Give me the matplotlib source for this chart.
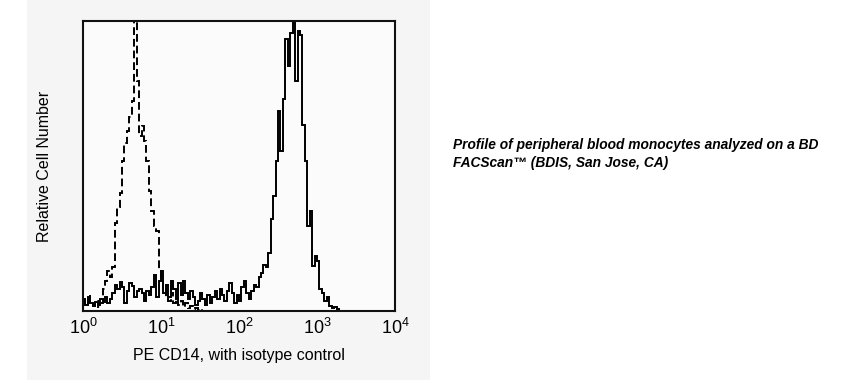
import matplotlib
matplotlib.use('Agg')
import matplotlib.pyplot as plt
from matplotlib.patches import Rectangle
import numpy as np

plt.rcParams['font.family'] = ['Liberation Sans', 'DejaVu Sans']
plt.rcParams['mathtext.fontset'] = 'custom'
plt.rcParams['mathtext.rm'] = 'Liberation Sans'

# 128 log-spaced channels over 4 decades (instrument channel grid)
channel_edges = np.logspace(0, 4, 129)

# relative cell counts per channel (pixels above axis)
isotype_counts = [
    12, 6, 16, 8, 5, 10, 4, 8, 22, 30,
    40, 34, 44, 88, 104, 118, 150, 168, 180, 194,
    210, 330, 230, 175, 185, 170, 150, 120, 100, 85,
    80, 40, 30, 22, 14, 10, 18, 8, 12, 6,
    10, 4, 8, 3, 5, 2, 3, 1, 2,
] + [0] * 79

cd14_counts = [
    10, 6, 14, 8, 5, 9, 6, 12, 9, 14,
    8, 12, 18, 26, 22, 29, 24, 8, 20, 28,
    25, 14, 20, 22, 18, 10, 20, 16, 24, 36,
    14, 30, 40, 18, 26, 14, 30, 22, 12, 28,
    16, 30, 18, 12, 20, 14, 6, 10, 18, 12,
    6, 16, 8, 14, 20, 12, 22, 16, 10, 20,
    28, 18, 8, 16, 10, 24, 30, 18, 12, 20,
    26, 24, 34, 38, 46, 44, 58, 92, 115, 150,
    200, 160, 212, 272, 245, 278, 330, 230, 280, 276,
    186, 150, 85, 100, 45, 55, 50, 22, 18, 10,
    14, 5, 3, 4, 2,
] + [0] * 23

tick_values = [1, 10, 100, 1000, 10000]
tick_labels = [r'$\mathregular{10^{%d}}$' % i for i in range(5)]

fig = plt.figure(figsize=(8.59, 3.8), dpi=100)
fig.patches.append(Rectangle((27 / 859, 0), 403 / 859, 1, transform=fig.transFigure,
                             facecolor='#f5f5f5', edgecolor='none', zorder=-10))

ax = fig.add_axes([83 / 859, 69 / 380, 312 / 859, 290 / 380])
ax.set_facecolor('#fbfbfb')

ax.stairs(isotype_counts, channel_edges, color='black', linewidth=1.4,
          linestyle=(0, (4, 2)))
ax.stairs(cd14_counts, channel_edges, color='black', linewidth=1.4)

ax.set_xscale('log')
ax.set_xlim(1, 10000)
ax.set_ylim(0, 290)
ax.set_xticks(tick_values)
ax.set_xticklabels(tick_labels, fontsize=13)
ax.minorticks_off()
ax.tick_params(axis='x', length=0, pad=5)
ax.set_yticks([])
for s in ax.spines.values():
    s.set_linewidth(1.5)
    s.set_color('#111111')

ax.set_xlabel('PE CD14, with isotype control', fontsize=11.5, labelpad=7)
ax.set_ylabel('Relative Cell Number', fontsize=11.5, labelpad=22)

fig.text(453 / 859, 1 - 138 / 380,
         'Profile of peripheral blood monocytes analyzed on a BD\nFACScan\u2122 (BDIS, San Jose, CA)',
         fontsize=9.9, fontweight='bold', fontstyle='italic', ha='left', va='top',
         linespacing=1.35, transform=fig.transFigure)

fig.savefig('out.png', dpi=100)
